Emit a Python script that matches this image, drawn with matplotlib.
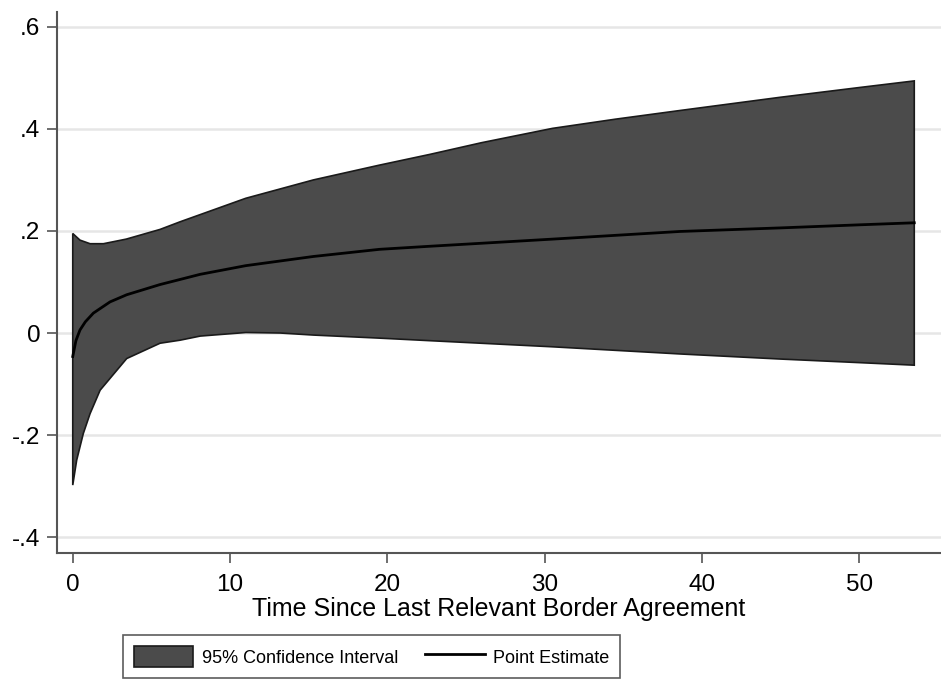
import matplotlib.pyplot as plt
from matplotlib.patches import Patch
from matplotlib.lines import Line2D

plt.rcParams['font.family'] = ['Liberation Sans', 'DejaVu Sans']

# band upper bound
x_up = [0, 0.46, 1.1, 1.95, 3.4, 5.55, 6.83, 8.1, 11, 15.3, 19.5, 22.7, 26, 30.5, 34.5, 38.6, 45, 50, 53.5]
ci_up = [0.195, 0.182, 0.175, 0.175, 0.184, 0.203, 0.218, 0.232, 0.264, 0.300, 0.329, 0.350,
         0.373, 0.401, 0.419, 0.436, 0.462, 0.481, 0.494]

# band lower bound
x_lo = [0, 0.25, 0.67, 1.1, 1.74, 3.43, 5.55, 6.83, 8.1, 11, 13.2, 15.3, 19.5, 22.7, 30.5, 38.6, 45, 50, 53.5]
ci_lo = [-0.298, -0.249, -0.197, -0.158, -0.112, -0.05, -0.02, -0.014, -0.006, 0.001, 0.0, -0.004,
         -0.010, -0.015, -0.027, -0.041, -0.051, -0.058, -0.063]

# point estimate
x_pe = [0, 0.2, 0.46, 0.8, 1.31, 2.37, 3.43, 5.55, 6.83, 8.1, 11, 15.3, 19.5, 22.7, 30.5, 38.6, 45, 50, 53.5]
pe = [-0.046, -0.015, 0.006, 0.022, 0.039, 0.061, 0.075, 0.095, 0.105, 0.115, 0.132, 0.150, 0.164,
      0.170, 0.184, 0.199, 0.206, 0.212, 0.216]

yticks = [-0.4, -0.2, 0, 0.2, 0.4, 0.6]
ylabels = ['-.4', '-.2', '0', '.2', '.4', '.6']
xticks = [0, 10, 20, 30, 40, 50]

fig = plt.figure(figsize=(9.41, 6.79), dpi=100)
ax = fig.add_axes([0.0606, 0.1856, 0.9394, 0.7967])

# polygon: upper bound forward, lower bound backward
poly_x = x_up + x_lo[::-1]
poly_y = ci_up + ci_lo[::-1]
ax.fill(poly_x, poly_y, facecolor='#4b4b4b', edgecolor='#1a1a1a', linewidth=1.2, zorder=2)
ax.plot(x_pe, pe, color='black', linewidth=2, zorder=3)

ax.set_xlim(-1.0, 55.2)
ax.set_ylim(-0.431, 0.629)
ax.set_yticks(yticks)
ax.set_yticklabels(ylabels)
ax.set_xticks(xticks)
ax.grid(axis='y', color='#e6e6e6', linewidth=1.8, zorder=0)
ax.set_axisbelow(True)

for s in ['top', 'right']:
    ax.spines[s].set_visible(False)
for s in ['left', 'bottom']:
    ax.spines[s].set_color('#555555')
    ax.spines[s].set_linewidth(1.5)
ax.tick_params(length=7, width=1.2, color='#555555', labelsize=17.5)
ax.tick_params(axis='x', pad=8)
ax.tick_params(axis='y', pad=5)

ax.set_xlabel('Time Since Last Relevant Border Agreement', fontsize=18, labelpad=1)

handles = [Patch(facecolor='#4b4b4b', edgecolor='#1a1a1a', linewidth=1.2),
           Line2D([0], [0], color='black', linewidth=2)]
leg = fig.legend(handles, ['95% Confidence Interval', 'Point Estimate'], ncol=2,
                 loc='upper left', bbox_to_anchor=(123 / 941, 1 - 635 / 679), borderaxespad=0,
                 fontsize=13, frameon=True, fancybox=False, edgecolor='#333333',
                 handlelength=3.3, handleheight=1.45, handletextpad=0.45,
                 columnspacing=1.5, borderpad=0.6)
leg.get_frame().set_linewidth(1.2)

fig.savefig('out.png', dpi=100)
